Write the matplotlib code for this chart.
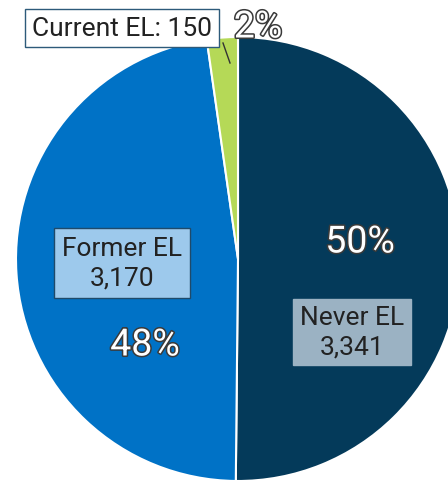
import matplotlib

matplotlib.use("Agg")

import matplotlib.pyplot as plt
import matplotlib.patheffects as pe

categories = ["Never EL", "Former EL", "Current EL"]
counts = [3341, 3170, 150]
percent_labels = ["50%", "48%", "2%"]
colors = ["#043a5a", "#0072c6", "#b5d957"]

W, H = 448, 481
CX, CY, R = 238, 260, 222


def px(x, y):
    """Convert pixel position to data coords (pie radius = 1)."""
    return (x - CX) / R, (CY - y) / R


plt.rcParams["font.family"] = ["Roboto", "DejaVu Sans"]

fig = plt.figure(figsize=(W / 100, H / 100), dpi=100)
ax = fig.add_axes([0, 0, 1, 1])
ax.pie(
    counts,
    colors=colors,
    startangle=90,
    counterclock=False,
    radius=1,
    wedgeprops=dict(edgecolor="white", linewidth=1.5),
)
ax.set_xlim(-CX / R, (W - CX) / R)
ax.set_ylim(-(H - CY) / R, CY / R)
ax.set_aspect("auto")
ax.axis("off")

stroke = [pe.withStroke(linewidth=2.2, foreground="#3a3a3a")]
pct_pos = [(360, 243), (145, 346), (258, 28)]
for label, (x, y) in zip(percent_labels, pct_pos):
    ax.text(*px(x, y), label, color="white", fontsize=27, ha="center",
            va="center", path_effects=stroke)

ax.text(*px(122, 264), f"{categories[1]}\n{counts[1]:,}", fontsize=19,
        ha="center", va="center", color="#222222", linespacing=1.3,
        bbox=dict(boxstyle="square,pad=0.3", fc="#9dc9ec", ec="#1f4a6a", lw=1))
ax.text(*px(352, 333), f"{categories[0]}\n{counts[0]:,}", fontsize=19,
        ha="center", va="center", color="#222222", linespacing=1.3,
        bbox=dict(boxstyle="square,pad=0.25", fc="#9bb2c3", ec="#9bb2c3", lw=1))
ax.text(*px(122, 29), f"{categories[2]}: {counts[2]}", fontsize=19,
        ha="center", va="center", color="#222222",
        bbox=dict(boxstyle="square,pad=0.25", fc="white", ec="#2d5a7a", lw=1))
ax.plot(*zip(px(230, 64), px(223, 44)), color="#333333", lw=1)

fig.savefig("out.png", dpi=100)
